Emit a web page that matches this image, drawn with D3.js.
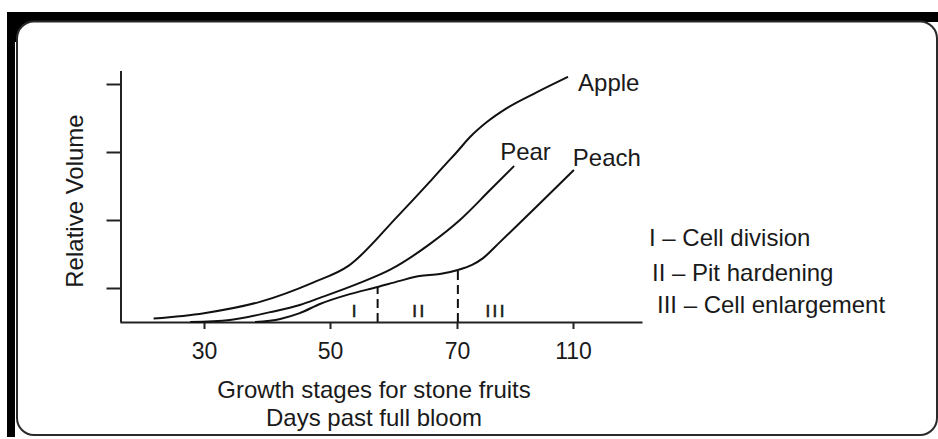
<!DOCTYPE html>
<html>
<head>
<meta charset="utf-8">
<script src="https://cdn.jsdelivr.net/npm/d3@7"></script>
<style>
  html, body { margin: 0; padding: 0; background: #fff; }
  svg { display: block; }
  text { font-family: "Liberation Sans", Arial, Helvetica, sans-serif; fill: #1a1a1a; }
</style>
</head>
<body>
<svg id="chart" width="938" height="439"></svg>
<script>
// ---------- data ----------
const xTickValues = [30, 50, 70, 110];
const yTickValues = [1, 3, 5, 7];

// [days past full bloom, relative volume]
const appleData = [[22,0.1],[30,0.26],[39,0.6],[47.3,1.16],[52.9,1.65],[60.6,3.1],[65.7,4.12],[68.4,4.68],[69.7,4.94],[74.5,5.44],[80.3,5.88],[87.2,6.29],[97.6,6.76],[108.3,7.21]];
const pearData  = [[27.8,0],[34.1,0.06],[40.5,0.29],[45.2,0.5],[48.4,0.71],[54.7,1.15],[59.4,1.53],[65.7,2.29],[71,3.0],[81.4,3.88],[89.7,4.59]];
const peachData = [[38.1,0],[42.1,0.09],[45.2,0.26],[48.4,0.53],[53.1,0.82],[57.5,1.03],[61,1.21],[64.1,1.35],[67.3,1.41],[70.3,1.53],[75.2,1.68],[79,1.88],[84.8,2.35],[110.3,4.47]];

const seriesNames = ["Apple", "Pear", "Peach"];
const stageBoundaries = [[57.5,1.03],[70.3,1.58]];   // dashed lines (day, top value)
const stageNames = ["I", "II", "III"];
const stageDays = [53.8, 63.9, 83.1];
const legendItems = ["I \u2013 Cell division", "II \u2013 Pit hardening", "III \u2013 Cell enlargement"];
const xTitle = ["Growth stages for stone fruits", "Days past full bloom"];
const yTitle = "Relative Volume";

// ---------- layout ----------
const svg = d3.select("#chart");

// frame
svg.append("rect").attr("x",7).attr("y",12).attr("width",931).attr("height",10).attr("fill","#000");
svg.append("rect").attr("x",7).attr("y",12).attr("width",8).attr("height",425).attr("fill","#000");
svg.append("rect").attr("x",7).attr("y",12).attr("width",30).attr("height",30).attr("fill","#000");
svg.append("rect").attr("x",17).attr("y",21.5).attr("width",920).attr("height",413.5)
  .attr("rx",17).attr("ry",17).attr("fill","#fff").attr("stroke","#2a2a2a").attr("stroke-width",2);

const x = d3.scaleLinear()
  .domain([16.67, 30, 50, 70, 110, 133.8])
  .range([120, 204, 330, 457, 573, 642]);
const y = d3.scaleLinear().domain([0, 7.4]).range([322, 70.4]);

const xAxis = svg.append("g").attr("transform","translate(0,322)")
  .call(d3.axisBottom(x).tickValues(xTickValues).tickSize(7).tickSizeOuter(0).tickPadding(14).tickFormat(d3.format("d")));
xAxis.select(".domain").attr("stroke","#222").attr("stroke-width",2);
xAxis.selectAll(".tick line").attr("stroke","#222").attr("stroke-width",2);
xAxis.selectAll(".tick text").attr("font-size",23).attr("fill","#1a1a1a")
  .style("font-family","Liberation Sans, Arial, sans-serif");

const yAxis = svg.append("g").attr("transform","translate(120.5,0)")
  .call(d3.axisLeft(y).tickValues(yTickValues).tickSize(14).tickSizeOuter(0).tickFormat(""));
yAxis.select(".domain").attr("stroke","#222").attr("stroke-width",2);
yAxis.selectAll(".tick line").attr("stroke","#222").attr("stroke-width",2);

// curves
const line = d3.line().x(d => x(d[0])).y(d => y(d[1])).curve(d3.curveMonotoneX);
[appleData, pearData, peachData].forEach(data => {
  svg.append("path").datum(data).attr("d", line)
    .attr("fill","none").attr("stroke","#111").attr("stroke-width",2);
});

// dashed stage boundaries
stageBoundaries.forEach(b => {
  svg.append("line")
    .attr("x1", x(b[0])).attr("x2", x(b[0]))
    .attr("y1", y(0)).attr("y2", y(b[1]))
    .attr("stroke","#111").attr("stroke-width",2).attr("stroke-dasharray","9,5");
});

// stage numerals
stageNames.forEach((s, i) => {
  svg.append("text").attr("x", x(stageDays[i]) + 1.2).attr("y", y(0.15))
    .attr("text-anchor","middle").attr("font-size",17).attr("letter-spacing",2.4)
    .attr("stroke","#1a1a1a").attr("stroke-width",0.6)
    .text(s);
});

// series labels
const ends = [appleData, pearData, peachData].map(d => d[d.length-1]);
const labelOffsets = [[10,14],[-14,-6],[-1,-4]];
seriesNames.forEach((n, i) => {
  svg.append("text")
    .attr("x", x(ends[i][0]) + labelOffsets[i][0])
    .attr("y", y(ends[i][1]) + labelOffsets[i][1])
    .attr("font-size",24).text(n);
});

// legend
const legendPos = [[649,246],[652,281],[657,313]];
legendItems.forEach((t, i) => {
  svg.append("text").attr("x",legendPos[i][0]).attr("y",legendPos[i][1])
    .attr("font-size",24).text(t);
});

// axis titles
xTitle.forEach((t, i) => {
  svg.append("text").attr("x",374).attr("y",398 + i*28)
    .attr("text-anchor","middle").attr("font-size",24).text(t);
});
svg.append("text").attr("transform","translate(83,201) rotate(-90)")
  .attr("text-anchor","middle").attr("font-size",24).text(yTitle);
</script>
</body>
</html>
